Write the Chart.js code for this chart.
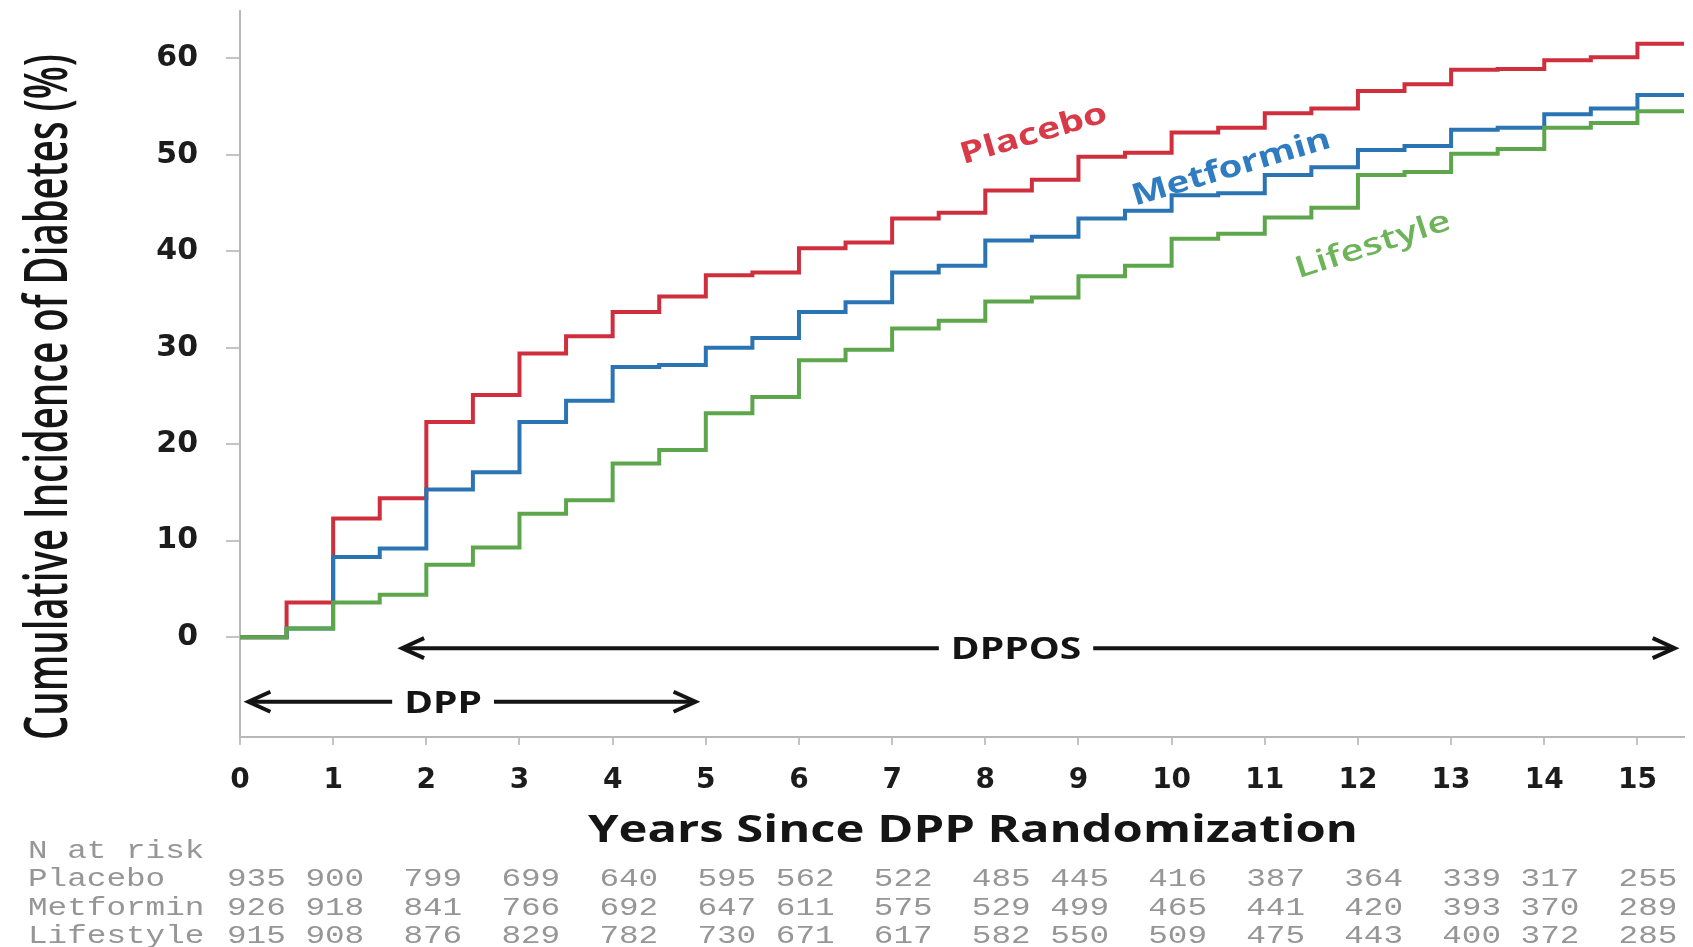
<!DOCTYPE html>
<html>
<head>
<meta charset="utf-8">
<script src="https://cdn.jsdelivr.net/npm/chart.js@4.4.1/dist/chart.umd.min.js"></script>
<style>
html,body{margin:0;padding:0;background:#fff;overflow:hidden}
#wrap{width:1693px;height:947px;position:relative}
canvas{display:block}
</style>
</head>
<body>
<div id="wrap"><canvas id="c" width="1693" height="947"></canvas></div>
<script>
// ---- data ----
const years = [0,0.5,1,1.5,2,2.5,3,3.5,4,4.5,5,5.5,6,6.5,7,7.5,8,8.5,9,9.5,10,10.5,11,11.5,12,12.5,13,13.5,14,14.5,15,15.5];
const placebo   = [0,3.6,12.3,14.4,22.3,25.1,29.4,31.2,33.7,35.3,37.5,37.8,40.3,40.9,43.4,44.0,46.3,47.4,49.8,50.2,52.3,52.8,54.3,54.8,56.6,57.3,58.8,58.9,59.8,60.1,61.5,61.5];
const metformin = [0,0.9,8.3,9.2,15.3,17.1,22.3,24.5,28.0,28.2,30.0,31.0,33.7,34.7,37.8,38.5,41.1,41.5,43.4,44.2,45.8,46.0,47.9,48.7,50.5,50.9,52.6,52.8,54.2,54.8,56.2,56.2];
const lifestyle = [0,0.9,3.6,4.4,7.5,9.3,12.8,14.2,18.0,19.4,23.2,24.9,28.7,29.8,32.0,32.8,34.8,35.2,37.4,38.5,41.3,41.8,43.5,44.5,47.9,48.2,50.1,50.6,52.8,53.3,54.5,54.5];
const seriesNames = ['Placebo','Metformin','Lifestyle'];
const xTickValues = [0,1,2,3,4,5,6,7,8,9,10,11,12,13,14,15];
const yTickValues = [0,10,20,30,40,50,60];
const xTitle = 'Years Since DPP Randomization';
const yTitle = 'Cumulative Incidence of Diabetes (%)';
const riskHeader = 'N at risk';
const riskPlacebo   = [935,900,799,699,640,595,562,522,485,445,416,387,364,339,317,255];
const riskMetformin = [926,918,841,766,692,647,611,575,529,499,465,441,420,393,370,289];
const riskLifestyle = [915,908,876,829,782,730,671,617,582,550,509,475,443,400,372,285];
const periodLabels = ['DPP','DPPOS'];

// ---- layout / style (kept apart from data) ----
const riskColumns = [10,14,19,24,29,34,38,43,48,52,57,62,67,72,76,81];
const lineColors = ['#cf2f3d','#2b74b3','#5da64c'];
const labelColors = ['#d83a47','#2f7cc0','#6cb35a'];

function pts(vals){ return years.map((x,i)=>({x:x, y:vals[i]})); }

function drawText(ctx, text, x, y, o){
  ctx.save();
  ctx.font = o.font; ctx.fillStyle = o.color;
  ctx.textAlign = o.align || 'center';
  ctx.textBaseline = o.baseline || 'alphabetic';
  ctx.translate(x, y);
  if (o.angle) ctx.rotate(o.angle);
  let s = o.sx || 1;
  if (o.width) s = o.width / ctx.measureText(text).width;
  ctx.scale(s, o.sy || 1);
  ctx.fillText(text, 0, 0);
  ctx.restore();
}

function arrow(ctx, xs, y, x1, x2, label, labelX){
  const p1 = xs.getPixelForValue(x1), p2 = xs.getPixelForValue(x2), pl = xs.getPixelForValue(labelX);
  ctx.save();
  ctx.font = '700 30px "Open Sans"';
  const tw = ctx.measureText(label).width * 1.3;
  ctx.strokeStyle = '#141414'; ctx.lineWidth = 4; ctx.lineCap = 'butt'; ctx.lineJoin = 'miter';
  ctx.beginPath();
  ctx.moveTo(p1 + 2, y); ctx.lineTo(pl - tw/2 - 12, y);
  ctx.moveTo(pl + tw/2 + 12, y); ctx.lineTo(p2 - 2, y);
  ctx.stroke();
  ctx.beginPath();
  ctx.moveTo(p1 + 22, y - 10); ctx.lineTo(p1, y); ctx.lineTo(p1 + 22, y + 10);
  ctx.moveTo(p2 - 22, y - 10); ctx.lineTo(p2, y); ctx.lineTo(p2 - 22, y + 10);
  ctx.stroke();
  ctx.restore();
  drawText(ctx, label, pl, y + 11, {font:'700 30px "Open Sans"', color:'#141414', sx:1.3});
}

const decor = {
  id: 'decor',
  afterDatasetsDraw(chart){
    const ctx = chart.ctx, xs = chart.scales.x, ys = chart.scales.y;
    const lab = [
      {t:seriesNames[0], x:8.52, y:52.1, a:16.5, w:152, f:'700 30px "Open Sans"'},
      {t:seriesNames[1], x:10.64, y:48.6, a:16.5, w:206, f:'700 30px "Open Sans"'},
      {t:seriesNames[2], x:12.16, y:40.6, a:18, w:162, f:'600 30px "Open Sans"'}
    ];
    lab.forEach((l,i)=>{
      drawText(ctx, l.t, xs.getPixelForValue(l.x), ys.getPixelForValue(l.y),
        {font:l.f, color:labelColors[i], baseline:'middle', angle:-l.a*Math.PI/180, width:l.w});
    });
    arrow(ctx, xs, ys.getPixelForValue(-1.14), 1.74, 15.4, periodLabels[1], 8.33);
    arrow(ctx, xs, ys.getPixelForValue(-6.7), 0.09, 4.89, periodLabels[0], 2.18);
  },
  afterDraw(chart){
    const ctx = chart.ctx;
    drawText(ctx, yTitle, 67, 397, {font:'600 60px "Open Sans"', color:'#151515', angle:-Math.PI/2, width:686});
    drawText(ctx, xTitle, 973, 842, {font:'700 37px "Open Sans"', color:'#151515', width:770});
    const x0 = 28, pitch = 19.6, font = '400 25px "Liberation Mono"', col = '#969696';
    ctx.save(); ctx.font = font;
    const sx = pitch / ctx.measureText('0').width;
    ctx.restore();
    const rows = [[seriesNames[0], riskPlacebo],[seriesNames[1], riskMetformin],[seriesNames[2], riskLifestyle]];
    drawText(ctx, riskHeader, x0, 858, {font, color:col, align:'left', sx});
    rows.forEach((r, ri)=>{
      const by = 886 + ri*28.5;
      drawText(ctx, r[0], x0, by, {font, color:col, align:'left', sx});
      r[1].forEach((v, ci)=>{
        drawText(ctx, String(v), x0 + 3 + riskColumns[ci]*pitch, by, {font, color:col, align:'left', sx});
      });
    });
  }
};

const tickFont = {family:'"DejaVu Sans"', weight:'bold'};
function noPad(s){ s.paddingTop = 0; s.paddingBottom = 0; s.paddingLeft = 0; s.paddingRight = 0; }

new Chart(document.getElementById('c'), {
  type: 'line',
  data: {
    datasets: [
      {label:seriesNames[0], data:pts(placebo), borderColor:lineColors[0], borderWidth:4, stepped:'before', pointRadius:0, fill:false, order:2, borderJoinStyle:'miter'},
      {label:seriesNames[1], data:pts(metformin), borderColor:lineColors[1], borderWidth:4, stepped:'before', pointRadius:0, fill:false, order:1, borderJoinStyle:'miter'},
      {label:seriesNames[2], data:pts(lifestyle), borderColor:lineColors[2], borderWidth:4, stepped:'before', pointRadius:0, fill:false, order:0, borderJoinStyle:'miter'}
    ]
  },
  options: {
    responsive:false, animation:false, devicePixelRatio:1,
    layout:{padding:{left:0, top:11, right:9, bottom:0}},
    plugins:{legend:{display:false}, tooltip:{enabled:false}, title:{display:false}},
    scales:{
      x:{
        type:'linear', min:0, max:15.5,
        afterBuildTicks:s=>{ s.ticks = xTickValues.map(v=>({value:v})); },
        afterFit:s=>{ s.height = 210; noPad(s); },
        grid:{drawOnChartArea:false, drawTicks:true, tickLength:8, color:'#c4c4c4', lineWidth:2},
        border:{display:true, color:'#b8b8b8', width:2},
        ticks:{font:{...tickFont, size:28}, color:'#1c1c1c', padding:19, maxRotation:0, autoSkip:false}
      },
      y:{
        type:'linear', min:-10.35, max:64.9,
        afterBuildTicks:s=>{ s.ticks = yTickValues.map(v=>({value:v})); },
        afterFit:s=>{ s.width = 240; noPad(s); },
        grid:{drawOnChartArea:false, drawTicks:true, tickLength:14, color:'#c4c4c4', lineWidth:2},
        border:{display:true, color:'#b8b8b8', width:2},
        ticks:{font:{...tickFont, size:30}, color:'#1c1c1c', padding:28, autoSkip:false}
      }
    }
  },
  plugins:[decor]
});
</script>
</body>
</html>
